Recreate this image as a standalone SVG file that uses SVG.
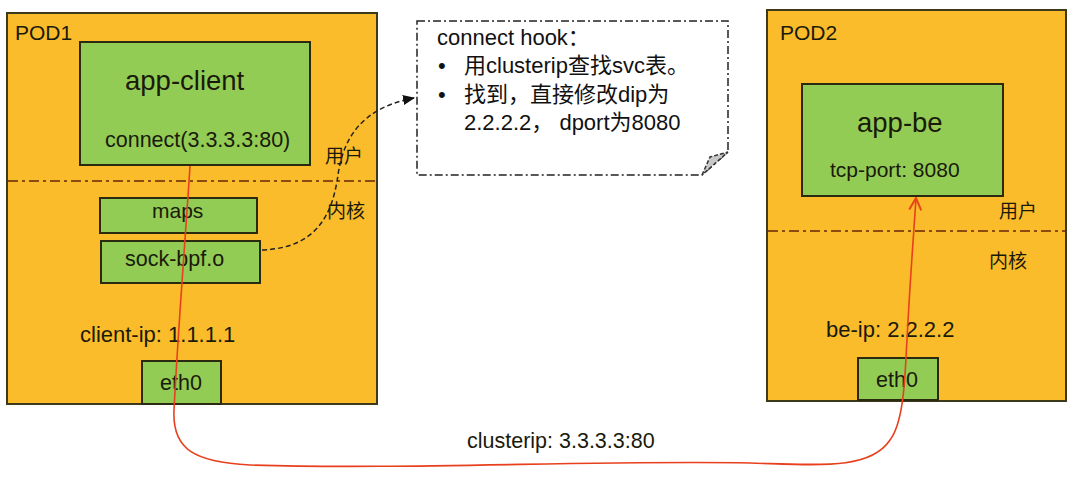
<svg xmlns="http://www.w3.org/2000/svg" width="1080" height="477" viewBox="0 0 1080 477">
<style>
.pod{fill:#FBBC2B;stroke:#3d3a1c;stroke-width:2}
.box{fill:#92CC55;stroke:#2a2a10;stroke-width:2}
.sep{stroke:#8a4a10;stroke-width:2;stroke-dasharray:10,4,3,4;fill:none}
text{font-family:"Liberation Sans","Noto Sans CJK SC",sans-serif;fill:#1a1a0a}
.cn{font-family:"Noto Sans CJK SC",sans-serif}
.hk{fill:#111}
</style>
<defs>
<marker id="ah" markerWidth="12" markerHeight="12" refX="11" refY="6" orient="auto" markerUnits="userSpaceOnUse"><path d="M0,1 L12,6 L0,11 z" fill="#111"/></marker>
<marker id="ra" markerWidth="14" markerHeight="14" refX="13" refY="7" orient="auto" markerUnits="userSpaceOnUse"><path d="M1,1 L13,7 L1,13" fill="none" stroke="#E8441C" stroke-width="2"/></marker>
</defs>
<rect width="1080" height="477" fill="#fff"/>
<g id="pod1">
<rect class="pod" x="7" y="13" width="370" height="391"/>
<text x="15" y="40" font-size="21">POD1</text>
<line class="sep" x1="8" y1="181" x2="376" y2="181"/>
<text class="cn" x="325" y="163" font-size="19">用户</text>
<text class="cn" x="327" y="218" font-size="19">内核</text>
<text x="80" y="342" font-size="22">client-ip: 1.1.1.1</text>
</g>
<g id="app-client">
<rect class="box" x="80" y="42" width="230" height="123"/>
<text x="125" y="90" font-size="27.5">app-client</text>
<text x="105" y="147" font-size="21.5">connect(3.3.3.3:80)</text>
</g>
<g id="maps">
<rect class="box" x="100" y="198" width="157" height="35"/>
<text x="152" y="218" font-size="21">maps</text>
</g>
<g id="sock-bpf">
<rect class="box" x="101" y="241" width="159" height="42"/>
<text x="125" y="266" font-size="21.5">sock-bpf.o</text>
</g>
<g id="eth0-1">
<rect class="box" x="142" y="361" width="79" height="43"/>
<text x="160" y="390" font-size="21.5">eth0</text>
</g>
<g id="pod2">
<rect class="pod" x="767" y="10" width="299" height="391"/>
<text x="780" y="40" font-size="21">POD2</text>
<line class="sep" x1="768" y1="231" x2="1065" y2="231"/>
<text class="cn" x="999" y="218" font-size="19">用户</text>
<text class="cn" x="989" y="268" font-size="19">内核</text>
<text x="826" y="337" font-size="22">be-ip: 2.2.2.2</text>
</g>
<g id="app-be">
<rect class="box" x="802" y="84" width="201" height="112"/>
<text x="857" y="132" font-size="27.5">app-be</text>
<text x="830" y="177" font-size="21">tcp-port: 8080</text>
</g>
<g id="eth0-2">
<rect class="box" x="858" y="358" width="80" height="42"/>
<text x="876" y="387" font-size="21.5">eth0</text>
</g>
<g id="hook">
<path d="M417,21 H728 V152 L702,175 H417 Z" fill="#fff" stroke="#222" stroke-width="1.5" stroke-dasharray="8,3,2,3"/>
<path d="M702,175 L710,157 L728,152 Z" fill="#c8c8c8" stroke="#333" stroke-width="1.5" stroke-dasharray="4,2"/>
<text class="hk" x="437" y="45" font-size="22">connect hook：</text>
<text class="hk" x="438" y="73" font-size="22">•</text>
<text class="hk" x="464" y="73" font-size="22">用clusterip查找svc表。</text>
<text class="hk" x="438" y="102" font-size="22">•</text>
<text class="hk" x="464" y="102" font-size="22">找到，直接修改dip为</text>
<text class="hk" x="464" y="130" font-size="22">2.2.2.2， dport为8080</text>
</g>
<g id="connectors">
<path d="M262,250 C320,248 333,210 338,175 C343,140 360,108 414,98" fill="none" stroke="#222" stroke-width="1.5" stroke-dasharray="5,3" marker-end="url(#ah)"/>
<path d="M190,166 C186,230 178,330 174,410 C172,450 195,462 250,465 C400,470 600,460 750,463 C820,465 870,470 890,440 C905,420 905,370 907,340 C910,280 914,230 916,198" fill="none" stroke="#E8401E" stroke-width="1.6" marker-end="url(#ra)"/>
<text x="467" y="448" font-size="21.5">clusterip: 3.3.3.3:80</text>
</g>
</svg>
